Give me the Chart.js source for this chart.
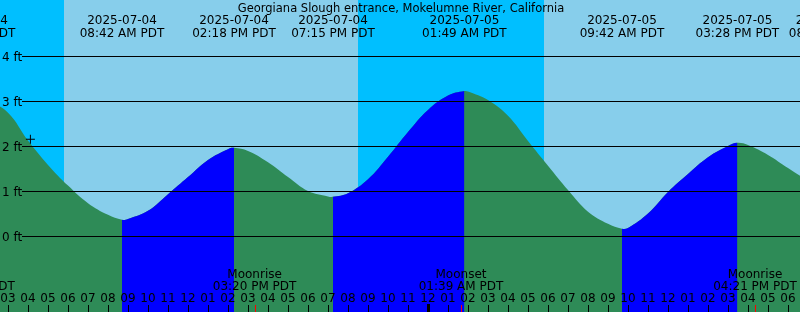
<!DOCTYPE html>
<html>
<head>
<meta charset="utf-8">
<script src="https://cdn.jsdelivr.net/npm/chart.js@4/dist/chart.umd.min.js"></script>
<style>
    body { margin: 0; background: #87ceeb; }
    #wrap { width: 800px; height: 312px; position: relative; }
</style>
</head>
<body>
<div id="wrap"><canvas id="myChart"></canvas></div>
<script>
// hours are counted from 2025-07-04 00:00 PDT
const tideHours = [1.25, 2, 3, 4, 5, 6, 7, 8, 8.7, 9, 10, 11, 12, 13, 14, 14.3, 15, 16, 17, 18, 19, 19.25,
    20, 21, 22, 23, 24, 25, 25.82, 26, 27, 28, 29, 30, 31, 32, 33, 33.7, 34, 35, 36, 37, 38, 39, 39.47,
    40, 41, 42, 43, 44.13];
const tideFeet = [3.08, 3.0, 2.74, 2.12, 1.58, 1.12, 0.73, 0.47, 0.36, 0.38, 0.56, 0.93, 1.31, 1.69, 1.93, 1.96,
    1.89, 1.64, 1.31, 1.0, 0.88, 0.87, 0.95, 1.26, 1.76, 2.31, 2.8, 3.12, 3.22, 3.21, 3.02, 2.67, 2.11,
    1.56, 1.02, 0.54, 0.27, 0.16, 0.18, 0.5, 0.98, 1.38, 1.75, 2.0, 2.07, 2.02, 1.8, 1.51, 1.24, 1.05];

const eventHours = [1.25, 8.7, 14.3, 19.25, 25.82, 33.7, 39.47, 44.13];
const eventDates = ['2025-07-04', '2025-07-04', '2025-07-04', '2025-07-04', '2025-07-05', '2025-07-05', '2025-07-05', '2025-07-05'];
const eventTimes = ['01:15 AM PDT', '08:42 AM PDT', '02:18 PM PDT', '07:15 PM PDT', '01:49 AM PDT', '09:42 AM PDT', '03:28 PM PDT', '08:08 PM PDT'];

const moonHours = [1.23, 15.33, 25.65, 40.35];
const moonNames = ['Moonset', 'Moonrise', 'Moonset', 'Moonrise'];
const moonTimes = ['01:14 AM PDT', '03:20 PM PDT', '01:39 AM PDT', '04:21 PM PDT'];

const nightStart = [0, 20.5];
const nightEnd = [5.8, 29.8];

const hourTicks = [3, 4, 5, 6, 7, 8, 9, 10, 11, 12, 13, 14, 15, 16, 17, 18, 19, 20, 21, 22, 23, 24, 25, 26, 27, 28,
    29, 30, 31, 32, 33, 34, 35, 36, 37, 38, 39, 40, 41, 42];
const hourLabels = ['03', '04', '05', '06', '07', '08', '09', '10', '11', '12', '01', '02', '03', '04', '05', '06', '07',
    '08', '09', '10', '11', '12', '01', '02', '03', '04', '05', '06', '07', '08', '09', '10', '11', '12', '01', '02',
    '03', '04', '05', '06'];

const gridFeet = [0, 1, 2, 3, 4];
const nowHour = [4.12];
const nowFeet = [2.15];

const title = 'Georgiana Slough entrance, Mokelumne River, California';
const FONT = '12px "DejaVu Sans"';

const tidePlugin = {
    id: 'tide',
    beforeDraw(chart) {
        const {ctx, chartArea: a, scales: {x}} = chart;
        ctx.save();
        ctx.fillStyle = '#87ceeb';
        ctx.fillRect(a.left, a.top, a.right - a.left, a.bottom - a.top);
        ctx.fillStyle = '#00bfff';
        for (let i = 0; i < nightStart.length; i++) {
            const x0 = Math.max(x.getPixelForValue(nightStart[i]), a.left);
            const x1 = Math.min(x.getPixelForValue(nightEnd[i]), a.right);
            ctx.fillRect(x0, a.top, x1 - x0, a.bottom - a.top);
        }
        ctx.restore();
    },
    afterDatasetsDraw(chart) {
        const {ctx, chartArea: a, scales: {x, y}} = chart;
        ctx.save();
        ctx.font = FONT;
        ctx.fillStyle = '#000';
        ctx.strokeStyle = '#000';
        ctx.lineWidth = 1;

        // grid lines and labels
        gridFeet.forEach((f) => {
            const py = Math.round(y.getPixelForValue(f)) + 0.5;
            ctx.beginPath();
            ctx.moveTo(22, py);
            ctx.lineTo(a.right, py);
            ctx.stroke();
            ctx.textAlign = 'left';
            ctx.fillText(f + ' ft', 2, py + 4);
        });

        // top: title and tide events
        ctx.textAlign = 'center';
        ctx.font = '11.5px "DejaVu Sans"';
        ctx.fillText(title, 401, 12);
        ctx.font = FONT;
        eventHours.forEach((h, i) => {
            const px = x.getPixelForValue(h);
            ctx.fillText(eventDates[i], px, 24);
            ctx.fillText(eventTimes[i], px, 36.5);
        });

        // bottom: moon events
        moonHours.forEach((h, i) => {
            const px = x.getPixelForValue(h);
            ctx.fillText(moonNames[i], px, 277.5);
            ctx.fillText(moonTimes[i], px, 290);
        });

        // hour ticks
        hourTicks.forEach((h, i) => {
            const px = Math.round(x.getPixelForValue(h));
            ctx.fillText(hourLabels[i], px, 301.5);
            if (h % 24 === 0) {
                ctx.fillRect(px - 1, 304, 3, a.bottom - 304);
            } else {
                ctx.fillRect(px, 305, 1, a.bottom - 305);
            }
        });
        ctx.fillStyle = '#ff0000';
        moonHours.forEach((h) => {
            const px = Math.round(x.getPixelForValue(h));
            ctx.fillRect(px, 305, 1, a.bottom - 305);
        });
        ctx.restore();
    }
};

window.onload = () => {
    const chartContext = document.getElementById('myChart').getContext('2d');
    const tidePoints = tideHours.map((h, i) => ({x: h, y: tideFeet[i]}));
    const chartConfig = {
        type: 'line',
        data: {
            datasets: [{
                label: 'now',
                type: 'scatter',
                data: nowHour.map((h, i) => ({x: h, y: nowFeet[i]})),
                pointStyle: 'cross',
                pointRadius: 4.5,
                borderColor: '#000',
                borderWidth: 1,
                order: 0
            }, {
                // rising tide, drawn over the falling one
                label: 'rising',
                data: tidePoints,
                fill: 'start',
                backgroundColor: 'rgba(0,0,0,0)',
                borderWidth: 0,
                pointRadius: 0,
                tension: 0.4,
                segment: {
                    backgroundColor: (c) => c.p1.parsed.y > c.p0.parsed.y ? '#0000ff' : 'rgba(0,0,0,0)'
                },
                order: 1
            }, {
                label: 'tide',
                data: tidePoints,
                fill: 'start',
                backgroundColor: '#2e8b57',
                borderWidth: 0,
                pointRadius: 0,
                tension: 0.4,
                order: 2
            }]
        },
        options: {
            responsive: true,
            maintainAspectRatio: false,
            animation: false,
            layout: { padding: 0, autoPadding: false },
            plugins: { legend: { display: false }, tooltip: { enabled: false } },
            scales: {
                x: { type: 'linear', min: 2.6, max: 42.6, display: false },
                y: { min: -76 / 45, max: 236 / 45, display: false }
            }
        },
        plugins: [tidePlugin]
    };
    const myChart = new Chart(chartContext, chartConfig);
};
</script>
</body>
</html>
